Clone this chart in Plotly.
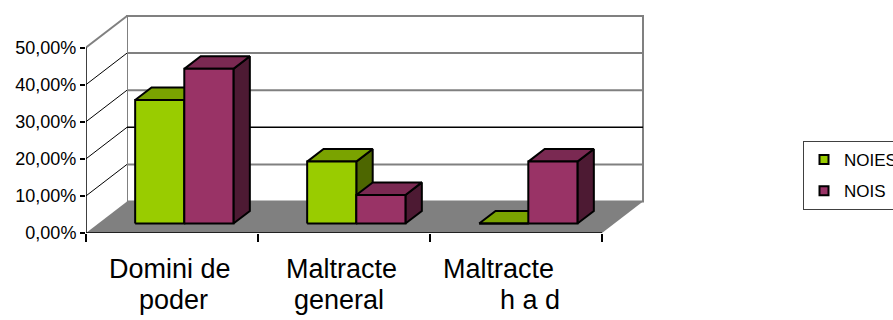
import plotly.graph_objects as go

# ---- data -------------------------------------------------------------
categories = [["Domini de", "poder"], ["Maltracte", "general"], ["Maltracte", "h a d"]]
series_names = ["NOIES", "NOIS"]
noies = [33.3, 16.7, 0.0]
nois = [41.7, 7.7, 16.7]
y_ticks = [0, 10, 20, 30, 40, 50]
y_tick_labels = ["0,00%", "10,00%", "20,00%", "30,00%", "40,00%", "50,00%"]

# ---- styling ----------------------------------------------------------
FONT = "Liberation Sans, Arial, sans-serif"
W, H = 893, 320
M_L, M_R, M_T, M_B = 86, 233, 10, 87
PX_PER_CAT = 172.0          # horizontal pixels per category on the front plane
PX_PER_PCT = 3.71           # vertical pixels per percentage point
DX = 41.0 / PX_PER_CAT      # oblique depth shift (category units)
DY = 31.5 / PX_PER_PCT      # oblique depth shift (percent units)
D0, D1 = 0.30, 0.70         # depth span of the bars
GAP = 1.5                   # gap between groups, relative to one bar width
Y_TOP = 50

COLORS = {
    "NOIES": {"front": "#99CC00", "top": "#7AA300", "side": "#4D6600"},
    "NOIS": {"front": "#993366", "top": "#7A2952", "side": "#4D1A33"},
}

plot_w = W - M_L - M_R
plot_h = H - M_T - M_B
x_range = [0, plot_w / PX_PER_CAT]
y_range = [0, plot_h / PX_PER_PCT]
n_cat = len(categories)


def proj(x, y, d):
    """Oblique projection of a point (x, y) placed at depth d."""
    return x + d * DX, y + d * DY


def poly(points, fill, line_color="black", line_width=2.0):
    xs, ys = zip(*[proj(*p) for p in points])
    return go.Scatter(
        x=list(xs) + [xs[0]], y=list(ys) + [ys[0]],
        mode="lines", fill="toself", fillcolor=fill,
        line=dict(color=line_color, width=line_width),
        hoverinfo="skip", showlegend=False,
    )


def seg(p, q, color, width):
    (x0, y0), (x1, y1) = proj(*p), proj(*q)
    return go.Scatter(
        x=[x0, x1], y=[y0, y1], mode="lines",
        line=dict(color=color, width=width),
        hoverinfo="skip", showlegend=False,
    )


traces = []

# back wall and left wall
traces.append(poly([(0, 0, 1), (n_cat, 0, 1), (n_cat, Y_TOP, 1), (0, Y_TOP, 1)],
                   "white", "#808080", 2))
traces.append(poly([(0, 0, 0), (0, 0, 1), (0, Y_TOP, 1), (0, Y_TOP, 0)],
                   "white", "rgba(0,0,0,0)", 0))
traces.append(seg((0, Y_TOP, 0), (0, Y_TOP, 1), "#808080", 2))

# floor
traces.append(poly([(0, 0, 0), (n_cat, 0, 0), (n_cat, 0, 1), (0, 0, 1)],
                   "#808080", "rgba(0,0,0,0)", 0))

# gridlines on the back wall and the left wall
for v in y_ticks[1:-1]:
    grid_color, grid_w = ("black", 1.5) if v == 20 else ("#808080", 2)
    traces.append(seg((0, v, 1), (n_cat, v, 1), grid_color, grid_w))
    traces.append(seg((0, v, 0), (0, v, 1), "black", 1))

# bars
bar_w = 1.0 / (2 + GAP)
offset = GAP / 2 * bar_w
series = [("NOIES", noies), ("NOIS", nois)]
for i in range(n_cat):
    for s, (name, vals) in enumerate(series):
        h = vals[i]
        xl = i + offset + s * bar_w
        xr = xl + bar_w
        c = COLORS[name]
        traces.append(poly([(xr, 0, D0), (xr, 0, D1), (xr, h, D1), (xr, h, D0)], c["side"]))
        traces.append(poly([(xl, h, D0), (xr, h, D0), (xr, h, D1), (xl, h, D1)], c["top"]))
        traces.append(poly([(xl, 0, D0), (xr, 0, D0), (xr, h, D0), (xl, h, D0)], c["front"]))

# front axis lines
traces.append(seg((0, 0, 0), (n_cat, 0, 0), "black", 1.5))
traces.append(seg((0, 0, 0), (0, Y_TOP, 0), "black", 1.5))

# legend entries
for gi, name in enumerate(series_names):
    traces.append(go.Scatter(
        x=[None], y=[None], mode="markers", name=name, legendgroup=f"g{gi}",
        marker=dict(symbol="square", size=9, color=COLORS[name]["front"],
                    line=dict(color="black", width=2)),
    ))

fig = go.Figure(traces)

# category labels under the front axis
label_dx = [[-2, 1], [-3, -5], [-18, 14]]
line_px = [269, 300]


def paper_y(px):
    return (H - M_B - px) / plot_h


annotations = []
for i, lines in enumerate(categories):
    for k, text in enumerate(lines):
        annotations.append(dict(
            x=i + 0.5, xref="x", y=paper_y(line_px[k]), yref="paper",
            text=text, showarrow=False, xanchor="center", yanchor="middle",
            xshift=label_dx[i][k], font=dict(family=FONT, size=27, color="black"),
        ))

fig.update_layout(
    width=W, height=H,
    margin=dict(l=M_L, r=M_R, t=M_T, b=M_B, autoexpand=False),
    paper_bgcolor="white", plot_bgcolor="white",
    font=dict(family=FONT, color="black"),
    xaxis=dict(range=x_range, tickvals=list(range(n_cat + 1)),
               ticktext=[""] * (n_cat + 1), ticks="outside", ticklen=8,
               tickwidth=1.5, tickcolor="black", showgrid=False,
               zeroline=False, showline=False, fixedrange=True),
    yaxis=dict(range=y_range, tickvals=y_ticks, ticktext=y_tick_labels,
               ticks="outside", ticklen=5, tickwidth=1.5, tickcolor="black",
               showgrid=False, zeroline=False, showline=False,
               tickfont=dict(family=FONT, size=18), fixedrange=True),
    showlegend=True,
    legend=dict(x=803 / W, xref="container", xanchor="left",
                y=1 - 141 / H, yref="container", yanchor="top",
                bordercolor="#404040", borderwidth=1, bgcolor="white",
                font=dict(family=FONT, size=17), tracegroupgap=6,
                itemwidth=30),
    annotations=annotations,
)

fig.write_html("out.html")
